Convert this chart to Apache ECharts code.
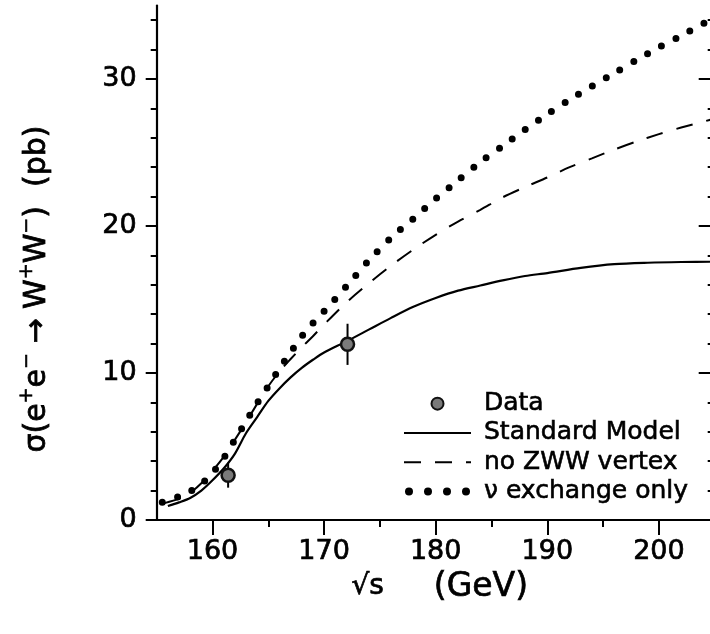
<!DOCTYPE html>
<html>
<head>
<meta charset="utf-8">
<script src="https://cdn.jsdelivr.net/npm/echarts@6/dist/echarts.min.js"></script>
<style>
  html, body { margin: 0; padding: 0; background: #fff; }
  #chart { width: 710px; height: 634px; }
</style>
</head>
<body>
<div id="chart"></div>
<script>
var font = '"DejaVu Sans", "Liberation Sans", sans-serif';

// standard model curve
var smE = [156, 157, 158, 159, 160, 161, 162, 163, 164, 165, 166, 167, 168, 169, 170, 172, 174, 176, 178, 180, 182, 184, 186, 188, 190, 193, 196, 199, 202, 205];
var smXs = [0.95, 1.2, 1.5, 2.0, 2.7, 3.5, 4.5, 5.9, 7.0, 8.1, 8.95, 9.7, 10.35, 10.9, 11.4, 12.15, 12.95, 13.75, 14.5, 15.1, 15.6, 15.95, 16.3, 16.6, 16.8, 17.15, 17.4, 17.5, 17.55, 17.57];

// no ZWW vertex
var dashE = [155.7, 157, 158, 159, 160, 161, 162, 163, 164, 165, 166, 167, 168, 169, 170, 172, 174, 176, 178, 180, 182, 184, 186, 188, 190, 192, 194, 196, 198, 200, 202, 205];
var dashXs = [1.15, 1.45, 1.85, 2.5, 3.35, 4.3, 5.45, 6.65, 7.9, 9.1, 10.1, 10.95, 11.75, 12.5, 13.3, 14.8, 16.1, 17.3, 18.4, 19.4, 20.3, 21.1, 21.95, 22.65, 23.3, 24.0, 24.6, 25.2, 25.75, 26.25, 26.7, 27.3];

// nu exchange only
var dotE = [155.5, 157, 158, 159, 160, 161, 162, 163, 164, 165, 166, 167, 168, 169, 170, 172, 174, 176, 178, 180, 182, 184, 186, 188, 190, 192, 194, 196, 198, 200, 202, 205];
var dotXs = [1.2, 1.6, 1.95, 2.45, 3.2, 4.2, 5.45, 6.7, 7.95, 9.1, 10.3, 11.4, 12.5, 13.4, 14.2, 15.9, 17.65, 19.2, 20.5, 21.85, 23.1, 24.35, 25.45, 26.55, 27.6, 28.6, 29.5, 30.4, 31.3, 32.15, 32.95, 34.2];

// measurements
var dataE = [161.4, 172.1];
var dataXs = [3.05, 11.95];
var dataErr = [0.85, 1.4];

var xMajor = [160, 170, 180, 190, 200];
var xMinor = [165, 175, 185, 195];
var yMajor = [0, 10, 20, 30];
var yMinor = [2, 4, 6, 8, 12, 14, 16, 18, 22, 24, 26, 28, 32, 34];

function pairs(xs, ys) {
    return xs.map(function (x, i) { return [x, ys[i]]; });
}

function tickAxis(dim, position, values, length, inside, showLine, showLabel) {
    return {
        type: 'value',
        position: position,
        min: dim === 'x' ? 155 : 0,
        max: dim === 'x' ? 205 : 35,
        axisLine: { show: showLine, lineStyle: { color: '#000', width: 2.2 } },
        axisTick: {
            show: true, inside: inside, length: length, customValues: values,
            lineStyle: { color: '#000', width: 2 }
        },
        axisLabel: {
            show: showLabel, customValues: values, margin: dim === 'x' ? 18 : 20,
            fontFamily: font, fontSize: 27, color: '#000',
            textBorderColor: '#000', textBorderWidth: 0.7
        },
        splitLine: { show: false }
    };
}

var xBottom = tickAxis('x', 'bottom', xMajor, 10, false, true, true);
xBottom.name = '{r|√s}{g|(GeV)}';
xBottom.nameLocation = 'middle';
xBottom.nameGap = 43;
xBottom.nameTextStyle = {
    rich: {
        r: { fontFamily: font, fontSize: 28, color: '#000', padding: [0, 50, 0, 8], textBorderColor: '#000', textBorderWidth: 0.7 },
        g: { fontFamily: font, fontSize: 33, color: '#000', textBorderColor: '#000', textBorderWidth: 0.7 }
    }
};

var myChart = echarts.init(document.getElementById('chart'));

option = {
    animation: false,
    backgroundColor: '#fff',
    grid: { left: 156.7, top: 5.5, width: 558, height: 514.5, outerBoundsMode: 'none', containLabel: false },
    xAxis: [
        xBottom,
        tickAxis('x', 'bottom', xMinor, 5, false, false, false),
        tickAxis('x', 'top', xMajor, 15, true, true, false),
        tickAxis('x', 'top', xMinor, 7, true, false, false)
    ],
    yAxis: [
        tickAxis('y', 'left', yMajor, 11, false, true, true),
        tickAxis('y', 'left', yMinor, 6, false, false, false),
        tickAxis('y', 'right', yMajor, 16, true, true, false),
        tickAxis('y', 'right', yMinor, 7, true, false, false)
    ],
    legend: {
        orient: 'vertical',
        left: 400,
        top: 389,
        padding: 0,
        itemGap: 0,
        itemWidth: 67,
        itemHeight: 12,
        textStyle: {
            fontFamily: font, fontSize: 25, color: '#000', lineHeight: 29.3, padding: [0, 0, 0, 8],
            textBorderColor: '#000', textBorderWidth: 0.6
        },
        data: [
            { name: 'Data', icon: 'circle', itemStyle: { color: '#7a7a7a', borderColor: '#111', borderWidth: 2 } },
            { name: 'Standard Model', itemStyle: { opacity: 0 } },
            { name: 'no ZWW vertex', itemStyle: { opacity: 0 } },
            { name: 'ν exchange only', itemStyle: { opacity: 0 }, lineStyle: { width: 8, type: [0, 19], cap: 'round', dashOffset: -5 } }
        ]
    },
    graphic: [{
        type: 'text',
        x: 37,
        y: 289,
        rotation: Math.PI / 2,
        style: {
            text: '{m|σ(e}{s|+}{m|e}{s|−}{m| → W}{s|+}{m|W}{s|−}{m|)  (pb)}',
            align: 'center',
            verticalAlign: 'middle',
            fill: '#000',
            rich: {
                m: { fontFamily: font, fontSize: 30, lineHeight: 38, verticalAlign: 'middle', fill: '#000', stroke: '#000', lineWidth: 0.8 },
                s: { fontFamily: font, fontSize: 19, lineHeight: 20, verticalAlign: 'top', fill: '#000', stroke: '#000', lineWidth: 0.6 }
            }
        }
    }],
    series: [
        {
            name: 'ν exchange only',
            type: 'line',
            data: pairs(dotE, dotXs),
            symbol: 'none',
            smooth: 0.3,
            lineStyle: { color: '#000', width: 7, type: [0, 16], cap: 'round' }
        },
        {
            name: 'no ZWW vertex',
            type: 'line',
            data: pairs(dashE, dashXs),
            symbol: 'none',
            smooth: 0.3,
            lineStyle: { color: '#000', width: 2, type: [17, 14] }
        },
        {
            name: 'Standard Model',
            type: 'line',
            data: pairs(smE, smXs),
            symbol: 'none',
            smooth: 0.3,
            lineStyle: { color: '#000', width: 2.2 }
        },
        {
            name: 'errors',
            type: 'custom',
            data: dataE.map(function (e, i) { return [e, dataXs[i] - dataErr[i], dataXs[i] + dataErr[i]]; }),
            encode: { x: 0, y: [1, 2] },
            z: 3,
            renderItem: function (params, api) {
                var lo = api.coord([api.value(0), api.value(1)]);
                var hi = api.coord([api.value(0), api.value(2)]);
                return {
                    type: 'line',
                    shape: { x1: lo[0], y1: lo[1], x2: hi[0], y2: hi[1] },
                    style: { stroke: '#000', lineWidth: 2 }
                };
            }
        },
        {
            name: 'Data',
            type: 'scatter',
            data: pairs(dataE, dataXs),
            symbol: 'circle',
            symbolSize: 13,
            z: 4,
            itemStyle: { color: '#7a7a7a', borderColor: '#111', borderWidth: 2.5, opacity: 1 }
        }
    ]
};

if (option && typeof option === "object") {
    myChart.setOption(option, true);
}
</script>
</body>
</html>
